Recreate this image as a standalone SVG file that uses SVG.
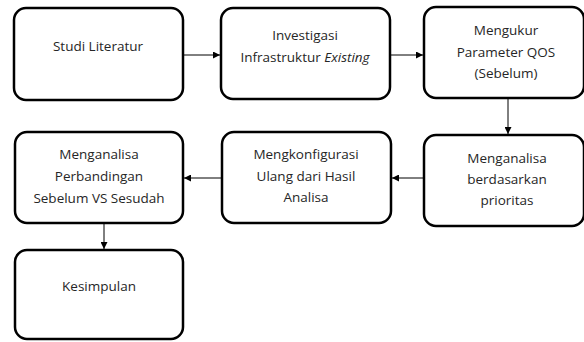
<svg xmlns="http://www.w3.org/2000/svg" width="584" height="342" viewBox="0 0 584 342">
<style>
.box{fill:#fff;stroke:#000;stroke-width:2.5}
.t{font-family:"Open Sans","DejaVu Sans",sans-serif;font-size:13.5px;fill:#262626;text-anchor:middle}
.c{stroke:#000;stroke-width:1;fill:none}
</style>
<defs>
<marker id="ah" viewBox="0 0 10 10" refX="10" refY="5" markerWidth="7" markerHeight="7" markerUnits="userSpaceOnUse" orient="auto">
<path d="M0,0 L10,5 L0,10 z" fill="#000"/>
</marker>
</defs>
<rect width="584" height="342" fill="#fff"/>
<g id="connectors">
<line class="c" x1="183" y1="55" x2="220" y2="55" marker-end="url(#ah)"/>
<line class="c" x1="390" y1="55" x2="423" y2="55" marker-end="url(#ah)"/>
<line class="c" x1="508" y1="98" x2="508" y2="134" marker-end="url(#ah)"/>
<line class="c" x1="423" y1="178" x2="392" y2="178" marker-end="url(#ah)"/>
<line class="c" x1="221" y1="178" x2="184" y2="178" marker-end="url(#ah)"/>
<line class="c" x1="104" y1="223" x2="104" y2="249" marker-end="url(#ah)"/>
</g>
<g id="n1"><rect class="box" x="14" y="8" width="169" height="92" rx="12"/>
<text class="t" x="98" y="51">Studi Literatur</text></g>
<g id="n2"><rect class="box" x="221" y="8" width="169" height="91" rx="12"/>
<text class="t" x="305" y="40">Investigasi</text>
<text class="t" x="305" y="62">Infrastruktur <tspan font-style="italic">Existing</tspan></text></g>
<g id="n3"><rect class="box" x="424" y="7" width="160" height="91" rx="12"/>
<text class="t" x="506" y="35">Mengukur</text>
<text class="t" x="506" y="57">Parameter QOS</text>
<text class="t" x="506" y="78">(Sebelum)</text></g>
<g id="n4"><rect class="box" x="424" y="135" width="160" height="91" rx="12"/>
<text class="t" x="507" y="163">Menganalisa</text>
<text class="t" x="507" y="184">berdasarkan</text>
<text class="t" x="507" y="205">prioritas</text></g>
<g id="n5"><rect class="box" x="222" y="132" width="169" height="91" rx="12"/>
<text class="t" x="306" y="159">Mengkonfigurasi</text>
<text class="t" x="306" y="181">Ulang dari Hasil</text>
<text class="t" x="306" y="202">Analisa</text></g>
<g id="n6"><rect class="box" x="15" y="132" width="168" height="91" rx="12"/>
<text class="t" x="99" y="159">Menganalisa</text>
<text class="t" x="99" y="181">Perbandingan</text>
<text class="t" x="99" y="203">Sebelum VS Sesudah</text></g>
<g id="n7"><rect class="box" x="15" y="250" width="168" height="89" rx="12"/>
<text class="t" x="99" y="291">Kesimpulan</text></g>
</svg>
